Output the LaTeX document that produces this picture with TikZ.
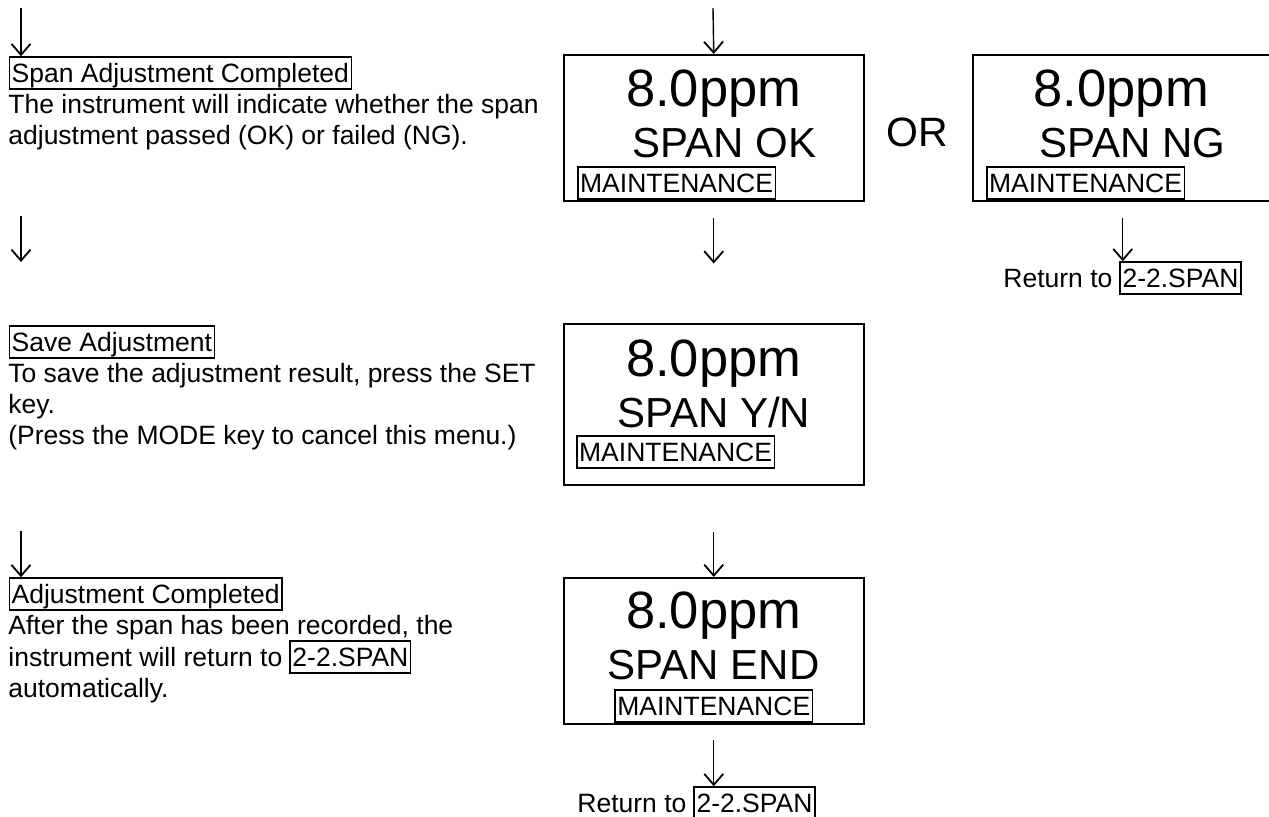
\documentclass[tikz,border=0pt]{standalone}
\usepackage{fontspec}
\setmainfont{Liberation Sans}
\usetikzlibrary{positioning,arrows.meta}

\begin{document}
\begin{tikzpicture}[x=0.5pt, y=-0.5pt,
    txt/.style={inner sep=0pt, anchor=base west, align=left,
      font=\fontsize{13.25pt}{15.5pt}\selectfont},
    tag/.style={draw, line width=0.75pt, inner xsep=1.2pt, inner ysep=0pt,
      text height=12.5pt, text depth=3.5pt, anchor=base west,
      font=\fontsize{13.25pt}{15.5pt}\selectfont},
    disp/.style={draw, line width=0.75pt, minimum width=150pt,
      minimum height=73pt, inner sep=0pt, anchor=north west},
    val/.style={inner sep=0pt, anchor=base, font=\fontsize{26.25pt}{30pt}\selectfont},
    msg/.style={inner sep=0pt, anchor=base, font=\fontsize{21pt}{24pt}\selectfont},
    flow/.style={line width=0.7pt, -{Straight Barb[length=5.5pt, width=9.5pt, line width=0.9pt]}}]
  \useasboundingbox (0,0) rectangle (1269,816);

  % left column: steps
  \coordinate (in1) at (21,8);
  \node[tag] (sac) at (8.5,82) {Span Adjustment Completed};
  \node[txt] (sact) at (8,144) {The instrument will indicate whether the span\\adjustment passed (OK) or failed (NG).};
  \draw[flow] (in1) -- (in1 |- sac.north);

  \coordinate (a2s) at (21,216);
  \coordinate (a2e) at (21,262);
  \draw[flow] (a2s) -- (a2e);

  \node[tag] (sav) at (8.5,351) {Save Adjustment};
  \node[txt] (savt) at (8,444) {To save the adjustment result, press the SET\\key.\\(Press the MODE key to cancel this menu.)};

  \coordinate (a3s) at (21,531);
  \node[tag] (ac) at (8.5,603) {Adjustment Completed};
  \draw[flow] (a3s) -- (a3s |- ac.north);
  \node[txt] (act1) at (8,634) {After the span has been recorded, the};
  \node[txt] (act2) at (8,666) {instrument will return to};
  \node[tag] (act3) at ([xshift=3.3pt]act2.base east) {2-2.SPAN};
  \node[txt] (act4) at (8,697) {automatically.};

  % display: span ok / ng
  \coordinate (in2) at (713,8);
  \node[disp] (ok) at (563,54) {};
  \node[val] (okv) at ([yshift=-26pt]ok.north) {8.0ppm};
  \node[msg] (okm) at ([xshift=5.5pt, yshift=-51.5pt]ok.north) {SPAN OK};
  \node[tag] (okt) at ([xshift=7pt, yshift=-69pt]ok.north west) {MAINTENANCE};
  \draw[flow] (in2) -- (ok.north);
  \coordinate (okd) at ([yshift=-31pt]ok.south);
  \draw[flow] ([yshift=-8pt]ok.south) -- (okd);

  \node[inner sep=0pt, anchor=base, font=\fontsize{20.5pt}{24pt}\selectfont] (or) at (917,146) {OR};

  \node[disp] (ng) at (972,54) {};
  \node[val] (ngv) at ([xshift=-0.75pt, yshift=-26pt]ng.north) {8.0ppm};
  \node[msg] (ngm) at ([xshift=4.75pt, yshift=-51.5pt]ng.north) {SPAN NG};
  \node[tag] (ngt) at ([xshift=7pt, yshift=-69pt]ng.north west) {MAINTENANCE};
  \node[txt] (ngr) at (1003,287) {Return to};
  \node[tag] (ngr2) at ([xshift=3.3pt]ngr.base east) {2-2.SPAN};
  \draw[flow] ([yshift=-8pt]ng.south) -- (ng.south |- ngr2.north);

  % display: save y/n
  \node[disp, minimum height=80.5pt] (yn) at (563,323) {};
  \node[val] (ynv) at ([yshift=-26.5pt]yn.north) {8.0ppm};
  \node[msg] (ynm) at ([yshift=-52pt]yn.north) {SPAN Y/N};
  \node[tag] (ynt) at ([xshift=6.5pt, yshift=-69pt]yn.north west) {MAINTENANCE};

  % display: span end
  \node[disp] (spe) at (563,577) {};
  \node[val] (spev) at ([yshift=-25.5pt]spe.north) {8.0ppm};
  \node[msg] (spem) at ([yshift=-51pt]spe.north) {SPAN END};
  \node[tag, anchor=base] (spet) at ([yshift=-69pt]spe.north) {MAINTENANCE};
  \draw[flow] ([yshift=-23pt]yn.south) -- (spe.north);

  \node[txt] (rt) at (577,812) {Return to};
  \node[tag] (rt2) at ([xshift=3.3pt]rt.base east) {2-2.SPAN};
  \draw[flow] ([yshift=-7.5pt]spe.south) -- (spe.south |- rt2.north);
\end{tikzpicture}
\end{document}
